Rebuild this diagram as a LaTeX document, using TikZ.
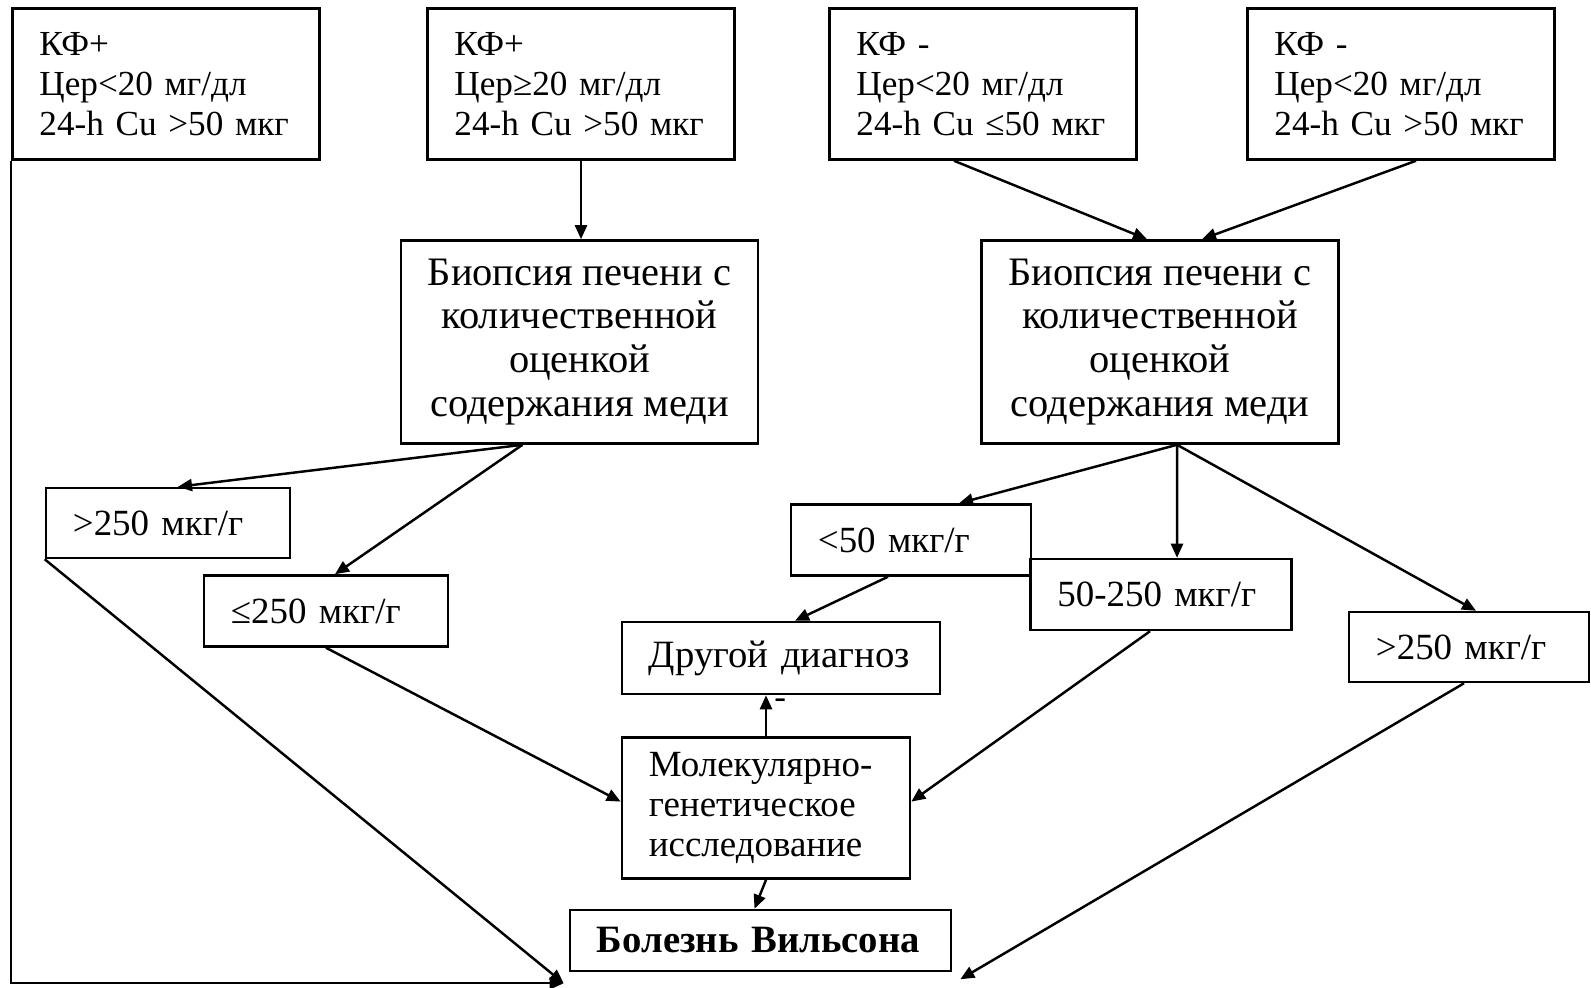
\documentclass[tikz,border=0pt]{standalone}
\usepackage{fontspec}
\setmainfont{Liberation Serif}
\usetikzlibrary{arrows.meta}

\tikzset{
  box/.style={draw, line width=0.7pt, inner xsep=0.27cm, inner ysep=0pt, align=left, font=\fontsize{10.5}{11.3}\selectfont},
  topbox/.style={box, text width=2.53cm, minimum height=1.51cm, font=\fontsize{10}{11.3}\selectfont},
  biopsy/.style={box, align=center, minimum width=3.55cm, minimum height=2.03cm, font=\fontsize{11.5}{12.5}\selectfont},
  arr/.style={line width=0.7pt, -{Triangle[length=0.14cm,width=0.12cm]}}
}

\begin{document}
\begin{tikzpicture}[x=0.01cm, y=-0.01cm]
\useasboundingbox (0,0) rectangle (1591,988);
% top row
\node[topbox] (kf1) at (166,84) {КФ+\\Цер<20 мг/дл\\24-h Cu >50 мкг};
\node[topbox] (kf2) at (581,84) {КФ+\\Цер≥20 мг/дл\\24-h Cu >50 мкг};
\node[topbox] (kf3) at (983,84) {КФ -\\Цер<20 мг/дл\\24-h Cu ≤50 мкг};
\node[topbox] (kf4) at (1401,84) {КФ -\\Цер<20 мг/дл\\24-h Cu >50 мкг};
% biopsy
\node[biopsy] (biopsy1) at (579.5,342) {Биопсия печени с\\количественной\\оценкой\\содержания меди};
\node[biopsy] (biopsy2) at (1160,342) {Биопсия печени с\\количественной\\оценкой\\содержания меди};
% copper levels
\node[box, text width=1.90cm, minimum height=0.70cm] (hi1) at (168,523) {>250 мкг/г};
\node[box, text width=1.90cm, minimum height=0.71cm] (lo1) at (326,611) {≤250 мкг/г};
\node[box, text width=1.86cm, minimum height=0.71cm] (lo2) at (911,540) {<50 мкг/г};
\node[box, text width=2.07cm, minimum height=0.71cm] (mid2) at (1161,594.5) {50-250 мкг/г};
\node[box, text width=1.86cm, minimum height=0.70cm] (hi2) at (1469,647) {>250 мкг/г};
% outcomes
\node[box, text width=2.64cm, minimum height=0.72cm, font=\fontsize{11}{12}\selectfont] (other) at (781,658) {Другой диагноз};
\node[box, text width=2.34cm, minimum height=1.41cm] (gen) at (766,808) {Молекулярно-\\генетическое\\исследование};
\node[box, text width=3.27cm, minimum height=0.61cm, font=\fontsize{11}{12}\selectfont] (wilson) at (760.5,940.5) {\textbf{Болезнь Вильсона}};
\coordinate (join) at ([xshift=-0.05cm,yshift=-0.11cm]wilson.south west);

\draw[arr] (kf2.south) -- (kf2.south |- biopsy1.north);
\draw[arr] ([xshift=-0.29cm]kf3.south) -- ([xshift=-0.13cm]biopsy2.north);
\draw[arr] ([xshift=0.15cm]kf4.south) -- ([xshift=0.42cm]biopsy2.north);
\draw[arr] ([xshift=-0.57cm]biopsy1.south) -- ([xshift=0.1cm]hi1.north);
\draw[arr] ([xshift=-0.57cm]biopsy1.south) -- ([xshift=0.09cm]lo1.north);
\draw[arr] ([xshift=0.17cm]biopsy2.south) -- ([xshift=0.48cm]lo2.north);
\draw[arr] ([xshift=0.17cm]biopsy2.south) -- ([xshift=0.16cm]mid2.north);
\draw[arr] ([xshift=0.17cm]biopsy2.south) -- ([xshift=0.07cm]hi2.north);
\draw[arr] ([xshift=-0.23cm]lo2.south) -- ([xshift=0.14cm]other.north);
\draw[arr] (gen.north) -- (gen.north |- other.south) node[pos=0.8, right, inner sep=2pt] (neg) {-};
\draw[arr] (gen.south) -- ([xshift=-0.06cm]wilson.north);
\draw[arr] (hi1.south west) -- (join);
\draw[arr] (kf1.south west) -- (kf1.south west |- join) -- (join);
\draw[arr] (lo1.south) -- ([yshift=0.064cm]gen.west);
\draw[arr] ([xshift=-0.11cm]mid2.south) -- ([yshift=0.064cm]gen.east);
\draw[arr] ([xshift=-0.05cm]hi2.south) -- ([xshift=0.08cm,yshift=-0.07cm]wilson.south east);
\end{tikzpicture}
\end{document}
